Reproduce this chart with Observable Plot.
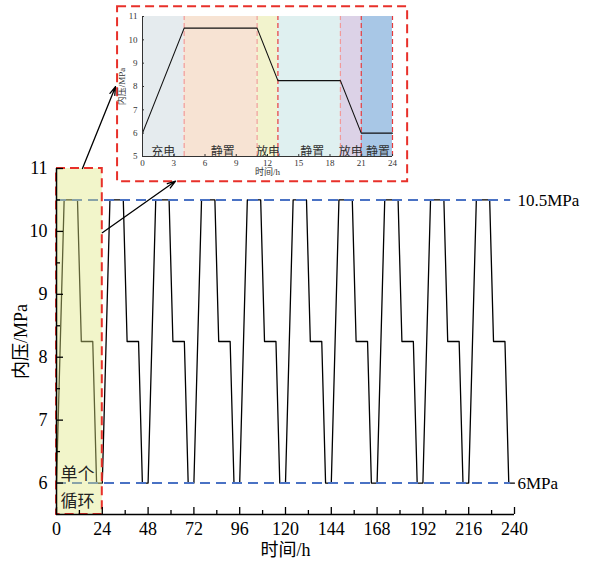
<!DOCTYPE html>
<html>
<head>
<meta charset="utf-8">
<script src="https://cdn.jsdelivr.net/npm/d3@7"></script>
<script src="https://cdn.jsdelivr.net/npm/@observablehq/plot@0.6"></script>
<style>
  html, body { margin: 0; padding: 0; background: white; }
  #wrap { position: relative; width: 591px; height: 571px; }
  #inset { position: absolute; left: 110px; top: 5px; }
  #wrap svg text { font-family: "Liberation Serif", "Noto Sans CJK SC", serif !important; }
</style>
</head>
<body>
<div id="wrap"><div id="main"></div><div id="inset"></div></div>
<script>
// ---- data ----
const cycleHours = [0, 4, 11, 13, 19, 21, 24];
const cyclePressure = [6, 10.5, 10.5, 8.25, 8.25, 6, 6];
const cycleCount = 10;
const cycleLength = 24;

const xTicks = [0, 24, 48, 72, 96, 120, 144, 168, 192, 216, 240];
const xMinorTicks = [12, 36, 60, 84, 108, 132, 156, 180, 204, 228];
const yTicks = [6, 7, 8, 9, 10, 11];
const yMinorTicks = [6.5, 7.5, 8.5, 9.5, 10.5];

const refLevels = [10.5, 6];
const refLabels = ["10.5MPa", "6MPa"];

const insetXTicks = [0, 3, 6, 9, 12, 15, 18, 21, 24];
const insetYTicks = [5, 6, 7, 8, 9, 10, 11];
const bandStart = [0, 4, 11, 13, 19, 21];
const bandEnd = [4, 11, 13, 19, 21, 24];
const bandLabel = ["充电", "静置", "放电", "静置", "放电", "静置"];
const bandColor = ["#e5ebee", "#f7e3d3", "#f2f3cd", "#dff0f0", "#dcd2e7", "#a8c7e6"];
const bandLabelX = [2.0, 7.7, 12.05, 16.3, 20.0, 22.6];
const bandLineColor = ["#f19a9a", "#f19a9a", "#e8393a", "#f19a9a", "#e8393a", "#e8393a"];

// annotation anchors in main-chart data units
const singleCycle = {x1: 0, x2: 24, y1: 5.5, y2: 11};
const insetBox = {x1: 32, x2: 184, y1: 10.79, y2: 13.57};
const arrows = [
  {x1: 13.6, y1: 11.0, x2: 30.9, y2: 12.3},
  {x1: 24, y1: 9.98, x2: 62.4, y2: 10.8}
];

// ---- derived tables ----
const series = d3.range(cycleCount).flatMap(k =>
  cycleHours.map((h, i) => ({t: k * cycleLength + h, p: cyclePressure[i]})));
const cycleOne = cycleHours.map((h, i) => ({t: h, p: cyclePressure[i]}));
const bands = bandStart.map((s, i) => ({s, e: bandEnd[i], label: bandLabel[i], fill: bandColor[i], lx: bandLabelX[i], line: bandLineColor[i]}));
const refs = refLevels.map((v, i) => ({v, label: refLabels[i]}));

const FONT = "Liberation Serif, Noto Sans CJK SC, serif";
const fmt = d => String(d);

const main = Plot.plot({
  width: 591, height: 571,
  marginLeft: 56, marginRight: 77, marginTop: 168, marginBottom: 57,
  style: {fontFamily: FONT, fontSize: "18px", background: "white", color: "black"},
  x: {domain: [0, 240], ticks: xTicks, tickFormat: fmt, tickSize: 0, tickPadding: 8, label: null},
  y: {domain: [5.5, 11], ticks: yTicks, tickFormat: fmt, tickSize: 0, tickPadding: 9, label: null},
  marks: [
    Plot.line(series, {x: "t", y: "p", stroke: "black", strokeWidth: 1.3}),
    Plot.ruleY(refs, {y: "v", x1: 0, x2: 238, stroke: "#4a72c4", strokeWidth: 2, strokeDasharray: "10,6"}),
    Plot.text(refs, {y: "v", x: 240, text: "label", textAnchor: "start", dx: 3, dy: 1, fontSize: 17}),
    Plot.rect([singleCycle], {x1: "x1", x2: "x2", y1: "y1", y2: "y2", fill: "#dfe680", fillOpacity: 0.42}),
    Plot.rect([singleCycle], {x1: "x1", x2: "x2", y1: "y1", y2: "y2", fill: "none", stroke: "#e8302a", strokeWidth: 2, strokeDasharray: "9,5"}),
    Plot.text(["单个\n循环"], {x: 11, y: 5.97, text: d => d, fontSize: 17, lineHeight: 1.55, fill: "#222"}),
    // axes lines and inward ticks
    Plot.ruleX([0], {x: d => d, y1: 5.5, y2: 11, stroke: "black", strokeWidth: 1.5}),
    Plot.ruleY([5.5], {y: d => d, x1: 0, x2: 240, stroke: "black", strokeWidth: 1.5}),
    Plot.ruleX(xTicks, {x: d => d, y1: 5.5, y2: 5.5, insetTop: -7, stroke: "black", strokeWidth: 1.3}),
    Plot.ruleX(xMinorTicks, {x: d => d, y1: 5.5, y2: 5.5, insetTop: -4, stroke: "black", strokeWidth: 1.3}),
    Plot.ruleY(yTicks, {y: d => d, x1: 0, x2: 0, insetRight: -7, stroke: "black", strokeWidth: 1.3}),
    Plot.ruleY(yMinorTicks, {y: d => d, x1: 0, x2: 0, insetRight: -4, stroke: "black", strokeWidth: 1.3}),
    Plot.text(["时间/h"], {frameAnchor: "bottom", dy: 41, text: d => d, fontSize: 18}),
    Plot.text(["内压/MPa"], {frameAnchor: "left", textAnchor: "middle", dx: -35, rotate: -90, text: d => d, fontSize: 18}),
    // inset frame and arrows
    Plot.rect([insetBox], {x1: "x1", x2: "x2", y1: "y1", y2: "y2", fill: "none", stroke: "#e8302a", strokeWidth: 2, strokeDasharray: "9,5"}),
    Plot.arrow(arrows, {x1: "x1", y1: "y1", x2: "x2", y2: "y2", stroke: "black", strokeWidth: 1.3, headLength: 10, headAngle: 35})
  ]
});
document.getElementById("main").appendChild(main);

const inset = Plot.plot({
  width: 300, height: 180,
  marginLeft: 32, marginRight: 18, marginTop: 11, marginBottom: 29,
  style: {fontFamily: FONT, fontSize: "9px", background: "transparent", color: "#333"},
  x: {domain: [0, 24], ticks: insetXTicks, tickFormat: fmt, tickSize: 0, tickPadding: 3, label: null},
  y: {domain: [5, 11], ticks: insetYTicks, tickFormat: fmt, tickSize: 0, tickPadding: 5, label: null},
  marks: [
    Plot.rect(bands, {x1: "s", x2: "e", y1: 5, y2: 11, fill: "fill"}),
    Plot.ruleX(bands, {x: "e", y1: 5, y2: 11, stroke: "line", strokeWidth: 1.2, strokeDasharray: "5,3"}),
    Plot.line(cycleOne, {x: "t", y: "p", stroke: "#111", strokeWidth: 1.1}),
    Plot.text(bands, {x: "lx", y: 5.2, text: "label", fontSize: 12, fill: "#333"}),
    Plot.ruleX([0], {x: d => d, y1: 5, y2: 11, stroke: "#333", strokeWidth: 1}),
    Plot.ruleY([5], {y: d => d, x1: 0, x2: 24, stroke: "#333", strokeWidth: 1}),
    Plot.ruleX(insetXTicks, {x: d => d, y1: 5, y2: 5, insetTop: -2, stroke: "#333"}),
    Plot.ruleY(insetYTicks, {y: d => d, x1: 0, x2: 0, insetRight: -2, stroke: "#333"}),
    Plot.text(["时间/h"], {frameAnchor: "bottom", dy: 18.5, text: d => d, fontSize: 9}),
    Plot.text(["内压/MPa"], {frameAnchor: "left", textAnchor: "middle", dx: -20, rotate: -90, text: d => d, fontSize: 9})
  ]
});
document.getElementById("inset").appendChild(inset);
</script>
</body>
</html>
